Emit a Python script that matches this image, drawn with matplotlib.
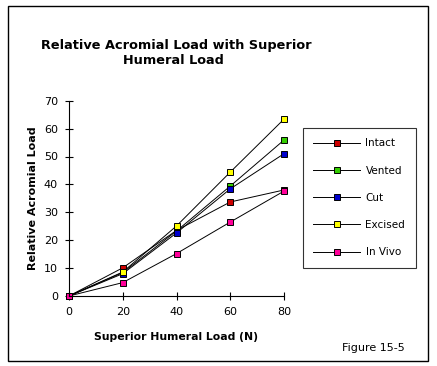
import matplotlib
matplotlib.use("Agg")
import matplotlib.pyplot as plt
from matplotlib.patches import Rectangle

# data
loads = [0, 20, 40, 60, 80]
intact = [0, 10.1, 23.5, 33.7, 38.0]
vented = [0, 8.4, 23.3, 39.4, 55.9]
cut = [0, 8.0, 22.6, 38.4, 51.0]
excised = [0, 8.6, 25.1, 44.4, 63.4]
in_vivo = [0, 4.8, 15.2, 26.5, 37.6]

series = [
    ("Intact", intact, "#cc0000"),
    ("Vented", vented, "#33cc00"),
    ("Cut", cut, "#0000cc"),
    ("Excised", excised, "#ffff00"),
    ("In Vivo", in_vivo, "#ff0099"),
]

fig = plt.figure(figsize=(4.37, 3.66), dpi=100)
ax = fig.add_axes([69 / 437, 1 - 296 / 366, (284 - 69) / 437, (296 - 100.7) / 366])

for name, vals, col in series:
    ax.plot(loads, vals, color="black", lw=0.7, marker="s", ms=5,
            mfc=col, mec="black", mew=0.7, label=name, clip_on=False)

ax.set_xlim(0, 80)
ax.set_ylim(0, 70)
ax.set_xticks(loads)
ax.set_yticks(range(0, 71, 10))
ax.spines["top"].set_visible(False)
ax.spines["right"].set_visible(False)
for s in ("left", "bottom"):
    ax.spines[s].set_linewidth(0.8)
ax.tick_params(direction="inout", length=6, width=0.8, labelsize=8, pad=5)

ax.set_xlabel("Superior Humeral Load (N)", fontsize=7.8, fontweight="bold", labelpad=11)
ax.set_ylabel("Relative Acromial Load", fontsize=8, fontweight="bold", labelpad=4)

fig.text(176 / 437, 1 - 45 / 366, "Relative Acromial Load with Superior",
         ha="center", va="center", fontsize=9.3, fontweight="bold")
fig.text(173 / 437, 1 - 61 / 366, "Humeral Load",
         ha="center", va="center", fontsize=9.3, fontweight="bold")

leg = fig.legend(loc="upper left", bbox_to_anchor=(303 / 437, 1 - 128 / 366),
                 frameon=True, fancybox=False, fontsize=7.5, handlelength=4.5,
                 labelspacing=1.65, borderpad=1.0, handletextpad=0.5,
                 borderaxespad=0)
leg.get_frame().set_edgecolor("black")
leg.get_frame().set_linewidth(0.8)

fig.text(405 / 437, 1 - 348 / 366, "Figure 15-5", ha="right", va="center", fontsize=8)

# outer border
fig.patches.append(Rectangle((8 / 437, 1 - 361 / 366), 420 / 437, 355 / 366,
                             transform=fig.transFigure, fill=False,
                             edgecolor="black", lw=1.0))

fig.savefig("out.png", dpi=100)
